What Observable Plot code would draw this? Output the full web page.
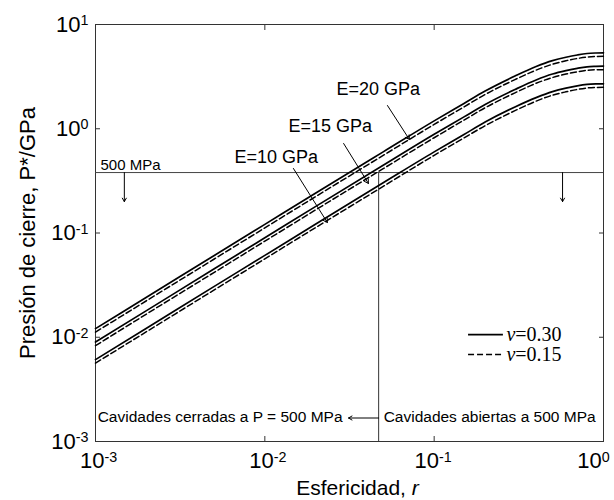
<!DOCTYPE html>
<html>
<head>
<meta charset="utf-8">
<script src="https://cdn.jsdelivr.net/npm/d3@7"></script>
<script src="https://cdn.jsdelivr.net/npm/@observablehq/plot@0.6"></script>
<style>
  html, body { margin: 0; padding: 0; background: #fff; }
</style>
</head>
<body>
<div id="chart"></div>
<script>
// ---- Data ----
const rValues = [0.001, 0.002, 0.005, 0.01, 0.02, 0.05, 0.1, 0.15, 0.2, 0.3, 0.4, 0.5, 0.6, 0.7, 0.8, 0.9, 1.0];

const E20_nu30 = [0.0121, 0.0242, 0.0605, 0.121, 0.242, 0.60, 1.19, 1.75, 2.30, 3.20, 3.95, 4.50, 4.85, 5.10, 5.27, 5.33, 5.35];
const E20_nu15 = [0.0112, 0.0224, 0.056, 0.112, 0.224, 0.555, 1.10, 1.62, 2.13, 2.96, 3.65, 4.16, 4.49, 4.72, 4.87, 4.93, 4.95];
const E15_nu30 = [0.0090, 0.0180, 0.0451, 0.090, 0.180, 0.447, 0.887, 1.30, 1.71, 2.38, 2.94, 3.35, 3.61, 3.80, 3.93, 3.97, 3.99];
const E15_nu15 = [0.0083, 0.0167, 0.0417, 0.0835, 0.167, 0.414, 0.82, 1.21, 1.59, 2.21, 2.73, 3.10, 3.35, 3.52, 3.64, 3.68, 3.69];
const E10_nu30 = [0.0061, 0.0122, 0.0306, 0.061, 0.122, 0.303, 0.60, 0.88, 1.16, 1.62, 1.99, 2.27, 2.45, 2.58, 2.66, 2.69, 2.70];
const E10_nu15 = [0.00565, 0.0113, 0.0283, 0.0565, 0.113, 0.28, 0.556, 0.817, 1.07, 1.49, 1.84, 2.10, 2.26, 2.38, 2.46, 2.49, 2.50];

const seriesNames = ["E=20, ν=0.30", "E=20, ν=0.15", "E=15, ν=0.30", "E=15, ν=0.15", "E=10, ν=0.30", "E=10, ν=0.15"];
const seriesNu = [0.30, 0.15, 0.30, 0.15, 0.30, 0.15];
const seriesValues = [E20_nu30, E20_nu15, E15_nu30, E15_nu15, E10_nu30, E10_nu15];

const xTicks = [1e-3, 1e-2, 1e-1, 1];
const yTicks = [1e-3, 1e-2, 1e-1, 1, 10];

// threshold lines (500 MPa line and its crossing)
const thresholdP = 0.38;
const thresholdR = 0.047;

// E labels and their leader arrows
const eLabels = ["E=20 GPa", "E=15 GPa", "E=10 GPa"];
const eLabelR = [0.0265, 0.0138, 0.00662];
const eLabelP = [2.38, 1.05, 0.53];
const eArrowR1 = [0.053, 0.0292, 0.01475];
const eArrowP1 = [1.67, 0.722, 0.416];
const eArrowR2 = [0.0714, 0.0409, 0.0234];
const eArrowP2 = [0.789, 0.2985, 0.126];

// down arrows below the 500 MPa line
const downArrowR = [0.00148, 0.573];
const downArrowP2 = 0.2;

// bottom annotations
const bottomTexts = ["Cavidades cerradas a P = 500 MPa", "Cavidades abiertas a 500 MPa"];
const bottomTextR = [0.00103, 0.0503];
const bottomTextP = 0.00172;
const bottomArrowR2 = 0.0312;
const bottomArrowP = 0.00168;

// legend
const legendLabels = ["ν=0.30", "ν=0.15"];
const legendNu = [0.30, 0.15];
const legendLineR1 = 0.1596, legendLineR2 = 0.2564, legendTextR = 0.267;
const legendP = [0.0106, 0.00684];

// ---- Build table ----
const rows = [];
seriesValues.forEach((vals, i) => vals.forEach((p, j) => rows.push({r: rValues[j], p, s: seriesNames[i], nu: seriesNu[i]})));

const eLabelRows = eLabels.map((t, i) => ({t, r: eLabelR[i], p: eLabelP[i]}));
const eArrowRows = eLabels.map((t, i) => ({r1: eArrowR1[i], p1: eArrowP1[i], r2: eArrowR2[i], p2: eArrowP2[i]}));
const downRows = downArrowR.map(r => ({r, p1: thresholdP, p2: downArrowP2}));
const bottomRows = bottomTexts.map((t, i) => ({t, r: bottomTextR[i], p: bottomTextP}));
const legendRows = legendLabels.map((t, i) => ({t, nu: legendNu[i], p: legendP[i]}));

const supFmt = d => "10^" + Math.round(Math.log10(d));
const font = "'Liberation Sans', Arial, Helvetica, sans-serif";

const chart = Plot.plot({
  width: 614,
  height: 500,
  marginLeft: 95,
  marginRight: 11,
  marginTop: 24,
  marginBottom: 59,
  style: {fontFamily: font, color: "black", background: "white"},
  x: {type: "log", domain: [1e-3, 1], axis: null, label: null},
  y: {type: "log", domain: [1e-3, 10], axis: null, label: null},
  marks: [
    Plot.frame({stroke: "#333", strokeWidth: 1}),
    // inward ticks on all four sides
    Plot.axisX(xTicks, {anchor: "bottom", tickSize: -5, tickFormat: () => "", label: null, stroke: "#333"}),
    Plot.axisX(xTicks, {anchor: "top", tickSize: -5, tickFormat: () => "", label: null, stroke: "#333"}),
    Plot.axisY(yTicks, {anchor: "left", tickSize: -5, tickFormat: () => "", label: null, stroke: "#333"}),
    Plot.axisY(yTicks, {anchor: "right", tickSize: -5, tickFormat: () => "", label: null, stroke: "#333"}),
    // tick labels
    Plot.axisX(xTicks.slice(0, 2), {anchor: "bottom", tickSize: 0, tickPadding: 11, dx: 3, tickFormat: supFmt, fontSize: 22, label: null}),
    Plot.axisX(xTicks.slice(2, 3), {anchor: "bottom", tickSize: 0, tickPadding: 11, dx: -1, tickFormat: supFmt, fontSize: 22, label: null}),
    Plot.axisX(xTicks.slice(3), {anchor: "bottom", tickSize: 0, tickPadding: 11, dx: -10, tickFormat: supFmt, fontSize: 22, label: null}),
    Plot.axisY(yTicks, {anchor: "left", tickSize: 0, tickPadding: 7, tickFormat: supFmt, fontSize: 22, label: null}),
    // axis titles
    Plot.text(["Esfericidad, r"], {frameAnchor: "bottom", dy: 47, dx: 8, fontSize: 21, lineAnchor: "middle", textAnchor: "middle"}),
    Plot.text(["Presión de cierre, P*/GPa"], {frameAnchor: "left", dx: -68, dy: 0, rotate: -90, fontSize: 22, lineAnchor: "middle", textAnchor: "middle"}),
    // threshold lines
    Plot.ruleY([thresholdP], {stroke: "#444", strokeWidth: 1}),
    Plot.ruleX([thresholdR], {y1: 1e-3, y2: thresholdP, stroke: "#333", strokeWidth: 1}),
    // curves
    Plot.line(rows.filter(d => d.nu === 0.30), {x: "r", y: "p", z: "s", stroke: "black", strokeWidth: 1.7, curve: "monotone-x"}),
    Plot.line(rows.filter(d => d.nu === 0.15), {x: "r", y: "p", z: "s", stroke: "black", strokeWidth: 1.5, strokeDasharray: "6,3", curve: "monotone-x"}),
    // annotations
    Plot.text(["500 MPa"], {x: 0.00107, y: 0.444, text: d => d, textAnchor: "start", fontSize: 15}),
    Plot.arrow(downRows, {x1: "r", y1: "p1", x2: "r", y2: "p2", stroke: "black", strokeWidth: 1, headLength: 6}),
    Plot.text(eLabelRows, {x: "r", y: "p", text: "t", textAnchor: "start", fontSize: 18}),
    Plot.arrow(eArrowRows, {x1: "r1", y1: "p1", x2: "r2", y2: "p2", stroke: "black", strokeWidth: 1, headLength: 7}),
    Plot.text(bottomRows, {x: "r", y: "p", text: "t", textAnchor: "start", fontSize: 15.5}),
    Plot.arrow([{r1: thresholdR, r2: bottomArrowR2, p: bottomArrowP}], {x1: "r1", y1: "p", x2: "r2", y2: "p", stroke: "black", strokeWidth: 1, headLength: 6}),
    // legend
    Plot.ruleY(legendRows.filter(d => d.nu === 0.30), {y: "p", x1: legendLineR1, x2: legendLineR2, stroke: "black", strokeWidth: 1.7}),
    Plot.ruleY(legendRows.filter(d => d.nu === 0.15), {y: "p", x1: legendLineR1, x2: legendLineR2, stroke: "black", strokeWidth: 1.5, strokeDasharray: "6,3"}),
    Plot.text(legendRows, {x: legendTextR, y: "p", text: "t", textAnchor: "start", fontSize: 20, fontFamily: "'Liberation Serif', 'Times New Roman', serif"})
  ]
});

// superscripts and italics
d3.select(chart).selectAll("text").each(function() {
  const t = this.textContent;
  const sel = d3.select(this);
  const m = t.match(/^10\^(-?\d+)$/);
  if (m) {
    sel.text("");
    sel.append("tspan").text("10");
    sel.append("tspan").attr("dy", "-0.45em").attr("font-size", "0.65em").text(m[1]);
  } else if (t === "Esfericidad, r") {
    sel.text("Esfericidad, ");
    sel.append("tspan").attr("font-style", "italic").text("r");
  } else if (/^ν=/.test(t)) {
    sel.text("");
    sel.append("tspan").attr("font-style", "italic").text("ν");
    sel.append("tspan").text(t.slice(1));
  }
});

document.getElementById("chart").appendChild(chart);
</script>
</body>
</html>
